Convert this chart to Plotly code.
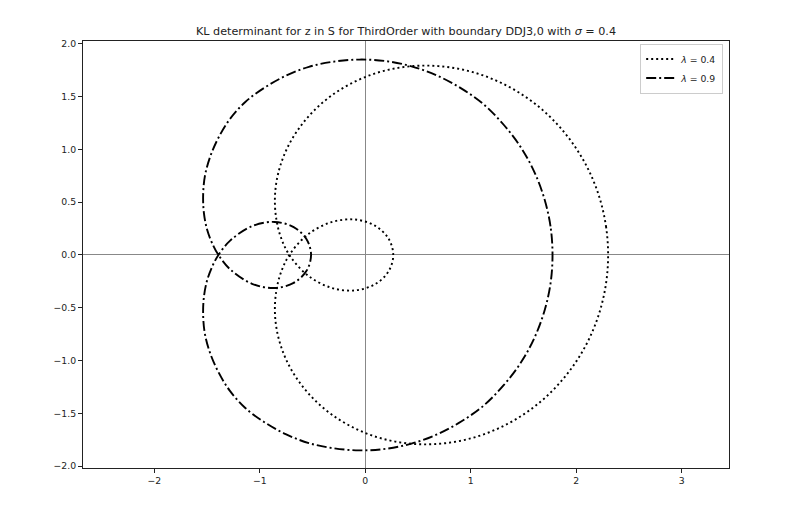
import plotly.graph_objects as go

# lambda = 0.4 curve (dotted), traced as one closed path
lam04_x = [2.302, 2.283, 2.226, 2.133, 2.005, 1.847, 1.663, 1.456, 1.232, 0.998, 0.758, 0.518, 0.284,
           0.061, -0.145, -0.330, -0.491, -0.624, -0.729, -0.802, -0.845, -0.857, -0.841, -0.800, -0.720,
           -0.552, -0.328, -0.102, 0.091, 0.220, 0.265,
           0.220, 0.091, -0.102, -0.328, -0.552,
           -0.720, -0.800, -0.841, -0.857, -0.845, -0.802, -0.729, -0.624, -0.491, -0.330, -0.145, 0.061,
           0.284, 0.518, 0.758, 0.998, 1.232, 1.456, 1.663, 1.847, 2.005, 2.133, 2.226, 2.283, 2.302]
lam04_y = [0.000, 0.265, 0.524, 0.771, 1.001, 1.208, 1.389, 1.539, 1.656, 1.738, 1.783, 1.793, 1.768,
           1.709, 1.619, 1.503, 1.363, 1.206, 1.035, 0.857, 0.675, 0.497, 0.326, 0.167, 0.000,
           -0.188, -0.309, -0.336, -0.278, -0.156, 0.000,
           0.156, 0.278, 0.336, 0.309, 0.188,
           0.000, -0.167, -0.326, -0.497, -0.675, -0.857, -1.035, -1.206, -1.363, -1.503, -1.619, -1.709,
           -1.768, -1.793, -1.783, -1.738, -1.656, -1.539, -1.389, -1.208, -1.001, -0.771, -0.524, -0.265, 0.000]

# lambda = 0.9 curve (dash-dot), traced as one closed path
lam09_x = [1.775, 1.756, 1.697, 1.602, 1.472, 1.310, 1.123, 0.909, 0.679, 0.438, 0.191, -0.057,
           -0.302, -0.535, -0.755, -0.960, -1.140, -1.285, -1.392, -1.470, -1.520, -1.537, -1.530,
           -1.499, -1.444, -1.392,
           -1.281, -1.074, -0.861, -0.679, -0.557, -0.514,
           -0.557, -0.679, -0.861, -1.074, -1.281,
           -1.392, -1.444, -1.499, -1.530, -1.537, -1.520, -1.470, -1.392, -1.285, -1.140, -0.960,
           -0.755, -0.535, -0.302, -0.057, 0.191, 0.438, 0.679, 0.909, 1.123, 1.310, 1.472, 1.602,
           1.697, 1.756, 1.775]
lam09_y = [0.000, 0.271, 0.535, 0.788, 1.024, 1.236, 1.426, 1.578, 1.700, 1.787, 1.837, 1.851,
           1.831, 1.782, 1.697, 1.582, 1.447, 1.285, 1.110, 0.932, 0.750, 0.571, 0.399,
           0.239, 0.094, 0.000,
           -0.136, -0.273, -0.313, -0.264, -0.150, 0.000,
           0.150, 0.264, 0.313, 0.273, 0.136,
           0.000, -0.094, -0.239, -0.399, -0.571, -0.750, -0.932, -1.110, -1.285, -1.447, -1.582,
           -1.697, -1.782, -1.831, -1.851, -1.837, -1.787, -1.700, -1.578, -1.426, -1.236, -1.024, -0.788,
           -0.535, -0.271, 0.000]

series_names = ["<i>λ</i> = 0.4", "<i>λ</i> = 0.9"]
x_ticks = [-2, -1, 0, 1, 2, 3]
y_ticks = [-2.0, -1.5, -1.0, -0.5, 0.0, 0.5, 1.0, 1.5, 2.0]
title_text = "KL determinant for z in S for ThirdOrder with boundary DDJ3,0 with <i>σ</i> = 0.4"

FONT = "DejaVu Sans"
W, H = 777, 507  # page body adds an 8px offset

fig = go.Figure()
fig.add_trace(go.Scatter(x=lam04_x, y=lam04_y, mode="lines", name=series_names[0],
                         line=dict(color="black", width=1.9, dash="2px,3px", shape="spline", smoothing=1)))
fig.add_trace(go.Scatter(x=lam09_x, y=lam09_y, mode="lines", name=series_names[1],
                         line=dict(color="black", width=1.9, dash="10px,3px,2px,3px", shape="spline", smoothing=1)))

axis_common = dict(showgrid=False, showline=True, linecolor="#222", linewidth=1, mirror=True,
                   ticks="outside", ticklen=4, tickwidth=1, tickcolor="#222",
                   zeroline=True, zerolinecolor="#888", zerolinewidth=1.1,
                   tickfont=dict(family=FONT, size=9.3, color="#222"))

fig.update_layout(
    width=W, height=H,
    margin=dict(l=75, r=56, t=33, b=47),
    paper_bgcolor="white", plot_bgcolor="white",
    title=dict(text=title_text, x=0.5, xref="paper", xanchor="center",
               y=1 - 23 / H, yref="container", yanchor="middle",
               font=dict(family=FONT, size=11.2, color="#222")),
    xaxis=dict(range=[-2.676, 3.448], tickvals=x_ticks, **axis_common),
    yaxis=dict(range=[-2.018, 2.027], tickvals=y_ticks, tickformat=".1f", **axis_common),
    legend=dict(x=0.991, y=0.994, xanchor="right", yanchor="top",
                bgcolor="white", bordercolor="#ccc", borderwidth=1,
                font=dict(family=FONT, size=9.3, color="#222"),
                itemwidth=30, tracegroupgap=0),
    showlegend=True,
)

fig.write_html("out.html")
